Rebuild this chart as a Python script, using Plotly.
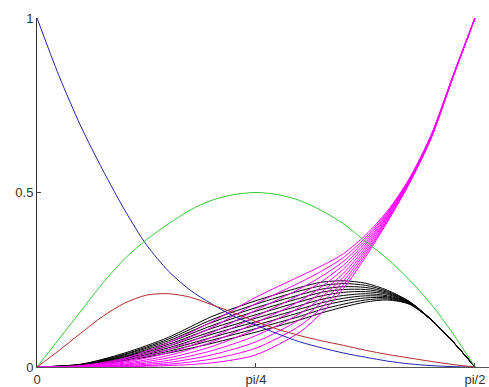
import numpy as np
import plotly.graph_objects as go

HALF_PI = np.pi / 2

# Positions along [0, pi/2], as fractions of pi/2
T_FINE = [0.00, 0.05, 0.10, 0.15, 0.20, 0.25, 0.30, 0.35, 0.40, 0.45, 0.50,
          0.55, 0.60, 0.65, 0.70, 0.75, 0.80, 0.85, 0.90, 0.95, 1.00]
T_FAMILY = [0.00, 0.10, 0.20, 0.30, 0.40, 0.50, 0.60, 0.65, 0.70, 0.75, 0.80,
            0.85, 0.90, 0.95, 1.00]

BLUE = [1.000, 0.835, 0.690, 0.565, 0.450, 0.350, 0.275, 0.220, 0.180, 0.145, 0.120,
        0.095, 0.072, 0.055, 0.040, 0.028, 0.017, 0.009, 0.004, 0.001, 0.000]
GREEN = [0.000, 0.080, 0.160, 0.240, 0.310, 0.365, 0.410, 0.450, 0.478, 0.494, 0.500,
         0.494, 0.477, 0.448, 0.410, 0.360, 0.310, 0.250, 0.180, 0.095, 0.000]
RED = [0.000, 0.047, 0.097, 0.145, 0.183, 0.206, 0.210, 0.200, 0.178, 0.155, 0.130,
       0.108, 0.090, 0.075, 0.062, 0.048, 0.036, 0.026, 0.016, 0.007, 0.000]

# Black family: rises from 0, peaks late, returns to 0 at pi/2
BLACK_FAMILY = [
    [0, 0.0080, 0.040, 0.085, 0.145, 0.190, 0.228, 0.243, 0.247, 0.240, 0.220, 0.188, 0.136, 0.072, 0],
    [0, 0.0075, 0.037, 0.080, 0.136, 0.180, 0.218, 0.233, 0.239, 0.234, 0.217, 0.187, 0.136, 0.072, 0],
    [0, 0.0070, 0.035, 0.075, 0.128, 0.170, 0.207, 0.223, 0.230, 0.228, 0.214, 0.186, 0.136, 0.072, 0],
    [0, 0.0065, 0.032, 0.070, 0.119, 0.160, 0.197, 0.214, 0.222, 0.222, 0.211, 0.185, 0.136, 0.072, 0],
    [0, 0.0060, 0.030, 0.065, 0.111, 0.150, 0.187, 0.204, 0.214, 0.216, 0.208, 0.184, 0.136, 0.072, 0],
    [0, 0.0055, 0.028, 0.060, 0.102, 0.140, 0.176, 0.194, 0.205, 0.210, 0.204, 0.184, 0.135, 0.072, 0],
    [0, 0.0050, 0.025, 0.055, 0.094, 0.130, 0.166, 0.184, 0.197, 0.204, 0.201, 0.183, 0.135, 0.072, 0],
    [0, 0.0045, 0.023, 0.050, 0.085, 0.120, 0.156, 0.175, 0.189, 0.198, 0.198, 0.182, 0.135, 0.072, 0],
    [0, 0.0040, 0.020, 0.045, 0.077, 0.110, 0.145, 0.165, 0.180, 0.192, 0.195, 0.181, 0.135, 0.072, 0],
    [0, 0.0030, 0.018, 0.040, 0.068, 0.100, 0.135, 0.155, 0.172, 0.186, 0.192, 0.180, 0.135, 0.072, 0],
]

# Magenta family: flat near 0, then climbs to 1 at pi/2
MAGENTA_FAMILY = [
    [0, 0.004, 0.025, 0.070, 0.130, 0.200, 0.260, 0.290, 0.325, 0.378, 0.447, 0.540, 0.665, 0.835, 1],
    [0, 0.003, 0.021, 0.060, 0.114, 0.182, 0.242, 0.275, 0.314, 0.371, 0.443, 0.538, 0.664, 0.835, 1],
    [0, 0.003, 0.017, 0.050, 0.099, 0.163, 0.224, 0.260, 0.303, 0.364, 0.440, 0.537, 0.663, 0.834, 1],
    [0, 0.002, 0.014, 0.041, 0.085, 0.145, 0.207, 0.245, 0.292, 0.357, 0.436, 0.535, 0.662, 0.834, 1],
    [0, 0.002, 0.011, 0.033, 0.072, 0.127, 0.189, 0.230, 0.281, 0.350, 0.433, 0.533, 0.661, 0.833, 1],
    [0, 0.001, 0.008, 0.026, 0.059, 0.109, 0.171, 0.215, 0.269, 0.343, 0.429, 0.532, 0.660, 0.833, 1],
    [0, 0.001, 0.006, 0.019, 0.047, 0.090, 0.153, 0.200, 0.258, 0.336, 0.426, 0.530, 0.659, 0.832, 1],
    [0, 0.001, 0.004, 0.013, 0.035, 0.072, 0.136, 0.185, 0.247, 0.329, 0.422, 0.528, 0.658, 0.832, 1],
    [0, 0.000, 0.002, 0.008, 0.023, 0.054, 0.118, 0.170, 0.236, 0.322, 0.419, 0.527, 0.656, 0.831, 1],
    [0, 0.000, 0.001, 0.004, 0.012, 0.035, 0.100, 0.155, 0.225, 0.315, 0.415, 0.525, 0.655, 0.830, 1],
]

X_TICKS = [0, np.pi / 4, np.pi / 2]
X_TICK_TEXT = ["0", "pi/4", "pi/2"]
Y_TICKS = [0, 0.5, 1]
Y_TICK_TEXT = ["0", "0.5", "1"]

x_fine = np.array(T_FINE) * HALF_PI
x_family = np.array(T_FAMILY) * HALF_PI

fig = go.Figure()


def add_curve(x, y, color, width=1.0):
    fig.add_trace(go.Scatter(
        x=x, y=y, mode="lines",
        line=dict(color=color, width=width, shape="spline", smoothing=0.8),
        hoverinfo="skip", showlegend=False,
    ))


for ys in BLACK_FAMILY:
    add_curve(x_family, ys, "#000000")
for ys in MAGENTA_FAMILY:
    add_curve(x_family, ys, "#ff00ff")

add_curve(x_fine, BLUE, "#2222aa")
add_curve(x_fine, GREEN, "#33cc33")
add_curve(x_fine, RED, "#b02a2a")

tick_font = dict(family="Liberation Sans, Arial, sans-serif", size=13, color="#333333")

fig.update_layout(
    width=489, height=387,
    margin=dict(l=37, r=0, t=18, b=17),
    paper_bgcolor="white", plot_bgcolor="white",
    showlegend=False,
)
fig.update_xaxes(
    range=[0, 1.032 * HALF_PI],
    tickmode="array", tickvals=X_TICKS, ticktext=X_TICK_TEXT,
    ticks="inside", ticklen=4, tickcolor="#444444",
    showline=True, linecolor="#555555", linewidth=1,
    showgrid=False, zeroline=False, tickfont=tick_font,
)
fig.update_yaxes(
    range=[0, 1],
    tickmode="array", tickvals=Y_TICKS, ticktext=Y_TICK_TEXT,
    ticks="inside", ticklen=4, tickcolor="#444444",
    showline=True, linecolor="#333333", linewidth=1,
    showgrid=False, zeroline=False, tickfont=tick_font,
)

fig.write_html("out.html", config={"displayModeBar": False})
